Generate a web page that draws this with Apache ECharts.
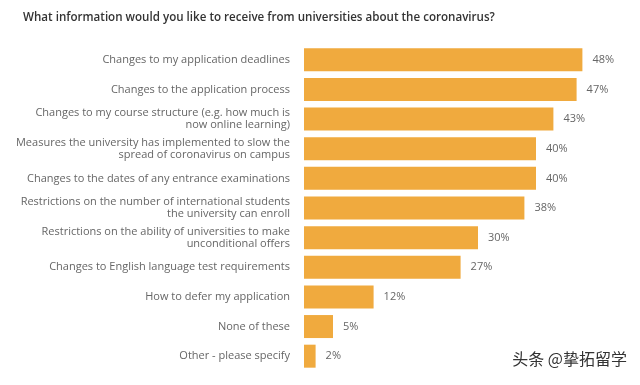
<!DOCTYPE html>
<html><head><meta charset="utf-8">
<script src="https://cdn.jsdelivr.net/npm/echarts@6/dist/echarts.min.js"></script>
<style>html,body{margin:0;padding:0;background:#fff}#c{width:640px;height:385px}</style>
</head><body><div id="c"></div>
<script>
const categories = [
  "Changes to my application deadlines",
  "Changes to the application process",
  "Changes to my course structure (e.g. how much is\nnow online learning)",
  "Measures the university has implemented to slow the\nspread of coronavirus on campus",
  "Changes to the dates of any entrance examinations",
  "Restrictions on the number of international students\nthe university can enroll",
  "Restrictions on the ability of universities to make\nunconditional offers",
  "Changes to English language test requirements",
  "How to defer my application",
  "None of these",
  "Other - please specify"
];
const values = [48, 47, 43, 40, 40, 38, 30, 27, 12, 5, 2];
const titleText = "What information would you like to receive from universities about the coronavirus?";
const watermark = "头条 @挚拓留学";

const chart = echarts.init(document.getElementById('c'), null, {renderer: 'canvas'});
chart.setOption({
  backgroundColor: '#fff',
  animation: false,
  title: {
    text: titleText, left: 18, top: 7,
    textStyle: {fontFamily: 'Open Sans', fontSize: 11.6, fontWeight: 600, color: '#333'}
  },
  grid: {left: 304, right: 46, top: 45, bottom: 14, containLabel: false},
  xAxis: {type: 'value', min: 0, max: 50, show: false},
  yAxis: {
    type: 'category', data: categories, inverse: true,
    axisLine: {show: false}, axisTick: {show: false},
    axisLabel: {
      margin: 14, fontFamily: 'Open Sans', fontSize: 11, color: '#666', lineHeight: 12, align: 'right'
    }
  },
  series: [{
    type: 'bar', data: values, barWidth: 23,
    itemStyle: {color: '#F0AA3E'},
    label: {
      show: true, position: 'right', distance: 10, formatter: '{c}%',
      fontFamily: 'Open Sans', fontSize: 11, color: '#666'
    }
  }],
  graphic: [{
    type: 'text', right: 12, top: 350,
    style: {text: watermark, fontFamily: 'Noto Sans CJK SC', fontSize: 16, fill: '#333', stroke: '#fff', lineWidth: 2}
  }]
});
</script></body></html>
